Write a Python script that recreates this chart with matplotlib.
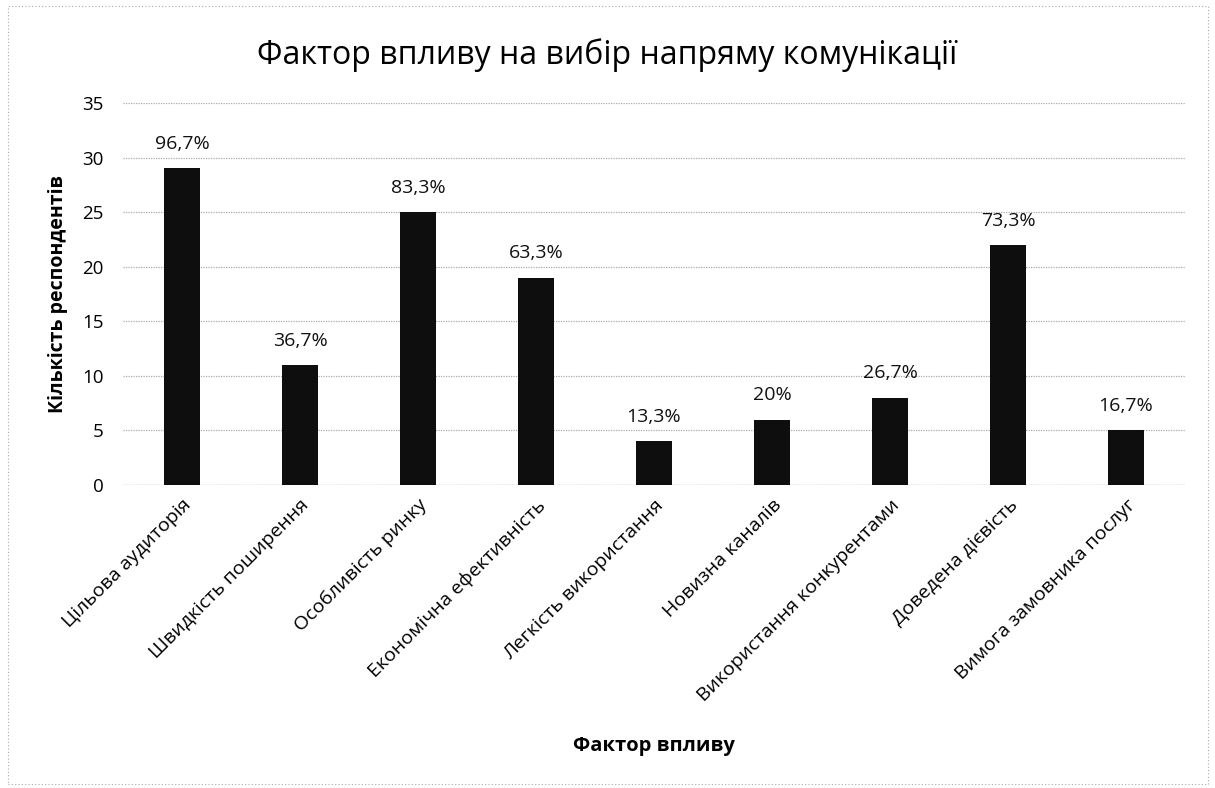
import matplotlib
matplotlib.use("Agg")
import matplotlib.pyplot as plt
from matplotlib.patches import Rectangle

categories = ["Цільова аудиторія", "Швидкість поширення", "Особливість ринку",
              "Економічна ефективність", "Легкість використання", "Новизна каналів",
              "Використання конкурентами", "Доведена дієвість", "Вимога замовника послуг"]
counts = [29, 11, 25, 19, 4, 6, 8, 22, 5]
percent_labels = ["96,7%", "36,7%", "83,3%", "63,3%", "13,3%", "20%", "26,7%", "73,3%", "16,7%"]
yticks = [0, 5, 10, 15, 20, 25, 30, 35]

plt.rcParams['font.family'] = ['Open Sans', 'DejaVu Sans']

fig = plt.figure(figsize=(12.15, 7.88), dpi=100)
ax = fig.add_axes([123 / 1215, 1 - 485 / 788, 1062 / 1215, 382 / 788])

x = list(range(len(categories)))
ax.bar(x, counts, width=0.31, color="#0e0e0e", zorder=3)
for xi, v, lab in zip(x, counts, percent_labels):
    ax.text(xi, v + 1.4, lab, ha="center", va="bottom", fontsize=14, color="#111111")

ax.set_xlim(-0.5, len(categories) - 0.5)
ax.set_ylim(0, 35)
ax.set_yticks(yticks)
ax.set_yticklabels([str(t) for t in yticks], fontsize=13.5)
ax.yaxis.grid(True, color="#aaaaaa", linestyle=(0, (1, 1)), linewidth=0.9, zorder=0)
ax.set_xticks(x)
ax.set_xticklabels(categories, rotation=45, ha="right", rotation_mode="anchor", fontsize=14)
ax.tick_params(axis="y", length=0, pad=14)
ax.tick_params(axis="x", length=0, pad=8)
for s in ax.spines.values():
    s.set_visible(False)
ax.axhline(0, color="#999999", linewidth=0.9, linestyle=(0, (1, 1)), zorder=2)

ax.set_ylabel("Кількість респондентів", fontsize=14, fontweight="bold", labelpad=10)
fig.text(0.5 * (123 + 1185) / 1215, 1 - 746 / 788, "Фактор впливу", ha="center", va="center",
         fontsize=14.5, fontweight="bold")
fig.text(0.5, 1 - 55 / 788, "Фактор впливу на вибір напряму комунікації",
         ha="center", va="center", fontsize=23)

fig.patches.append(Rectangle((8 / 1215, 4 / 788), 1200 / 1215, 778 / 788, transform=fig.transFigure,
                             fill=False, edgecolor="#aaaaaa", linewidth=0.8, linestyle=(0, (1, 2))))

fig.savefig("out.png", dpi=100, facecolor="white")
